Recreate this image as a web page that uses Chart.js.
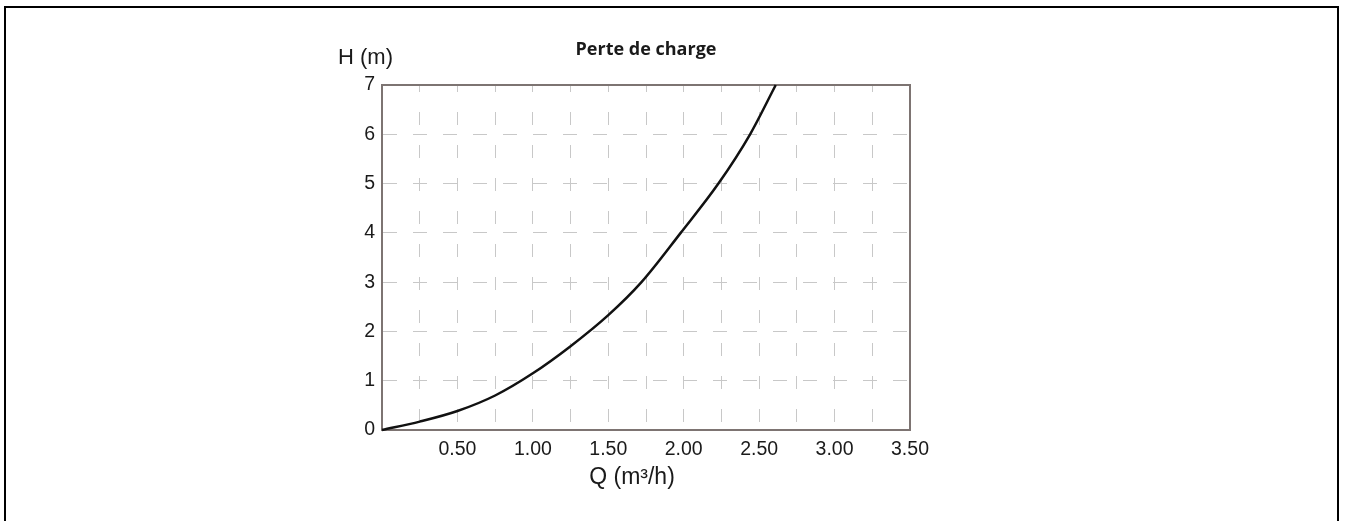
<!DOCTYPE html>
<html>
<head>
<meta charset="utf-8">
<script src="https://cdn.jsdelivr.net/npm/chart.js@4.4.0/dist/chart.umd.min.js"></script>
<style>
  html, body { margin: 0; padding: 0; background: #ffffff; }
  #wrap { width: 1345px; height: 521px; position: relative; }
</style>
</head>
<body>
<div id="wrap"><canvas id="c" width="1345" height="521"></canvas></div>
<script>
// ---- data ----
const flowQ = [0, 0.25, 0.5, 0.75, 1.0, 1.25, 1.5, 1.72, 1.98, 2.23, 2.44, 2.61];   // m3/h
const headH = [0, 0.17, 0.385, 0.70, 1.15, 1.70, 2.33, 3.0, 4.0, 5.0, 6.0, 7.0];   // m
const xTickLabels = ['0.50', '1.00', '1.50', '2.00', '2.50', '3.00', '3.50'];
const yTickLabels = ['0', '1', '2', '3', '4', '5', '6', '7'];
const chartTitle = 'Perte de charge';
const yAxisTitle = 'H (m)';
const xAxisTitle = 'Q (m³/h)';

const points = flowQ.map((q, i) => ({ x: q, y: headH[i] }));

const frameColor = '#7d7472';
const gridColor = '#c8c8c8';
const textColor = '#1a1a1a';

const decorPlugin = {
  id: 'decor',
  beforeDatasetsDraw(chart) {
    const { ctx, chartArea: a } = chart;
    ctx.save();
    // top and right edges of the plot frame
    ctx.strokeStyle = frameColor;
    ctx.lineWidth = 2;
    ctx.beginPath();
    ctx.moveTo(a.left, a.top);
    ctx.lineTo(a.right, a.top);
    ctx.lineTo(a.right, a.bottom);
    ctx.stroke();
    ctx.restore();
  },
  afterDraw(chart) {
    const { ctx, chartArea: a, height } = chart;
    ctx.save();
    // outer page frame (open at the bottom)
    ctx.strokeStyle = '#000000';
    ctx.lineWidth = 2;
    ctx.beginPath();
    ctx.moveTo(5, height + 2);
    ctx.lineTo(5, 7);
    ctx.lineTo(1338, 7);
    ctx.lineTo(1338, height + 2);
    ctx.stroke();
    // chart title
    ctx.fillStyle = textColor;
    ctx.font = 'bold 18px "Open Sans", sans-serif';
    ctx.textAlign = 'center';
    ctx.textBaseline = 'middle';
    ctx.fillText(chartTitle, (a.left + a.right) / 2, 50);
    // y axis title (horizontal, top-left)
    ctx.font = '22px "Liberation Sans", Arial, sans-serif';
    ctx.textAlign = 'left';
    ctx.fillText(yAxisTitle, 338, 58);
    // x axis title
    ctx.textAlign = 'center';
    ctx.font = '23px "Liberation Sans", Arial, sans-serif';
    ctx.fillText(xAxisTitle, 632, 478);
    ctx.restore();
  }
};

new Chart(document.getElementById('c'), {
  type: 'line',
  data: {
    datasets: [{
      data: points,
      borderColor: '#111111',
      borderWidth: 2.5,
      pointRadius: 0,
      fill: false,
      cubicInterpolationMode: 'monotone',
      clip: 4
    }]
  },
  options: {
    responsive: false,
    animation: false,
    devicePixelRatio: 1,
    layout: { padding: { left: 0, top: 85, right: 435, bottom: 0 } },
    plugins: {
      legend: { display: false },
      tooltip: { enabled: false },
      title: { display: false }
    },
    scales: {
      x: {
        type: 'linear',
        min: 0,
        max: 3.5,
        afterFit(scale) { scale.height = 91; },
        ticks: {
          stepSize: 0.25,
          autoSkip: false,
          maxRotation: 0,
          padding: 8,
          color: textColor,
          font: { family: '"Liberation Sans", Arial, sans-serif', size: 19.5 },
          callback(value) {
            const s = Number(value).toFixed(2);
            return xTickLabels.includes(s) ? s : '';
          }
        },
        grid: { color: gridColor, lineWidth: 1, drawTicks: false },
        border: { display: true, color: frameColor, width: 2, dash: [13, 20], dashOffset: 6 }
      },
      y: {
        type: 'linear',
        min: 0,
        max: 7,
        afterFit(scale) { scale.width = 382; },
        ticks: {
          stepSize: 1,
          padding: 7,
          color: textColor,
          font: { family: '"Liberation Sans", Arial, sans-serif', size: 19.5 },
          callback(value) {
            const s = String(Math.round(value));
            return yTickLabels.includes(s) ? s : '';
          }
        },
        grid: { color: gridColor, lineWidth: 1, drawTicks: false },
        border: { display: true, color: frameColor, width: 2, dash: [14, 16], dashOffset: 0 }
      }
    }
  },
  plugins: [decorPlugin]
});
</script>
</body>
</html>
